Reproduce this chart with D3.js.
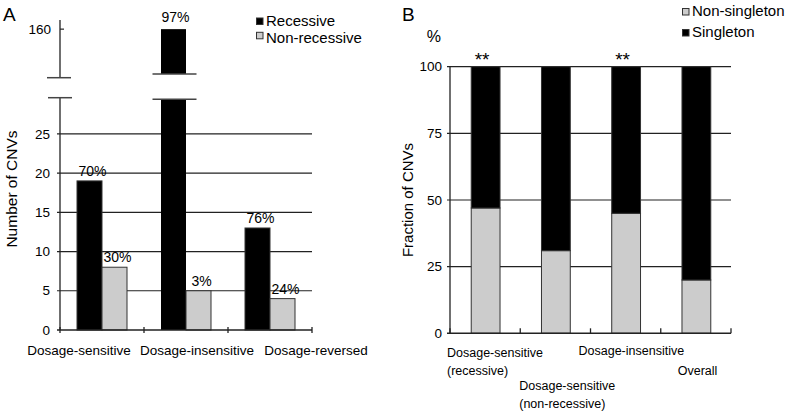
<!DOCTYPE html>
<html><head><meta charset="utf-8">
<script src="https://cdn.jsdelivr.net/npm/d3@7"></script>
<style>
html,body{margin:0;padding:0;background:#fff;}
svg text{font-family:"Liberation Sans",Arial,sans-serif;fill:#000;}
</style></head>
<body><svg id="c" width="785" height="412"></svg>
<script>
// ---------- Data: panel A ----------
const catsA = ["Dosage-sensitive", "Dosage-insensitive", "Dosage-reversed"];
const seriesA = ["Recessive", "Non-recessive"];
const recessive = [19, 160, 13];
const nonRecessive = [8, 5, 4];
const pctRecessive = ["70%", "97%", "76%"];
const pctNonRecessive = ["30%", "3%", "24%"];
const ticksALower = [0, 5, 10, 15, 20, 25];
const ticksAUpper = [160];

// ---------- Data: panel B ----------
const catsB = ["Dosage-sensitive (recessive)", "Dosage-sensitive (non-recessive)", "Dosage-insensitive", "Overall"];
const catLinesB = [["Dosage-sensitive", "(recessive)"], ["Dosage-sensitive", "(non-recessive)"], ["Dosage-insensitive"], ["Overall"]];
const seriesB = ["Non-singleton", "Singleton"];
const nonSingleton = [47, 31, 45, 20];
const singleton = [53, 69, 55, 80];
const significance = ["**", "", "**", ""];
const ticksB = [0, 25, 50, 75, 100];

const BLACK = "#000", GRAY = "#cccccc", LINE = "#222";
const svg = d3.select("#c");

// ================= Panel A =================
const xA = d3.scaleBand().domain(catsA).range([60, 312]).paddingInner(0).paddingOuter(0);
const xAin = d3.scaleBand().domain(seriesA).range([0, xA.bandwidth()]).paddingInner(0).paddingOuter(0.68);
const yA = d3.scaleLinear().domain([0, 29.4]).range([330, 99.3]);
const yAU = d3.scaleLinear().domain([151.5, 161.6]).range([77.7, 20]);
const gA = svg.append("g");

// gridlines
gA.selectAll("line.grid").data(ticksALower.filter(d => d > 0)).join("line")
  .attr("x1", 57).attr("x2", 312).attr("y1", d => yA(d)).attr("y2", d => yA(d))
  .attr("stroke", LINE).attr("stroke-width", 1.2);
// tick labels lower
gA.selectAll("text.tl").data(ticksALower).join("text")
  .attr("x", 50).attr("y", d => yA(d)).attr("dy", "0.35em").attr("text-anchor", "end")
  .style("font-size", "13.5px").text(d => d);
// upper tick
gA.selectAll("text.tu").data(ticksAUpper).join("text")
  .attr("x", 51).attr("y", d => yAU(d)).attr("dy", "0.35em").attr("text-anchor", "end")
  .style("font-size", "13.5px").text(d => d);
gA.selectAll("line.tu").data(ticksAUpper).join("line")
  .attr("x1", 60).attr("x2", 64).attr("y1", d => yAU(d)).attr("y2", d => yAU(d))
  .attr("stroke", LINE).attr("stroke-width", 1.2);

// bars
const barsA = catsA.map((c, i) => [
  {cat: c, s: seriesA[0], v: recessive[i], pct: pctRecessive[i]},
  {cat: c, s: seriesA[1], v: nonRecessive[i], pct: pctNonRecessive[i]}
]).flat();
const bw = xAin.bandwidth();
const yMaxLower = yA.domain()[1];
barsA.forEach(d => {
  const x = xA(d.cat) + xAin(d.s);
  const fill = d.s === seriesA[0] ? BLACK : GRAY;
  if (d.v <= yMaxLower) {
    gA.append("rect").attr("x", x).attr("y", yA(d.v)).attr("width", bw).attr("height", yA(0) - yA(d.v))
      .attr("fill", fill).attr("stroke", "#333").attr("stroke-width", 1);
    gA.append("text").attr("x", x + bw / 2 + 3).attr("y", yA(d.v) - 5).attr("text-anchor", "middle")
      .style("font-size", "14px").text(d.pct);
  } else {
    // broken bar
    gA.append("rect").attr("x", x).attr("y", yA(yMaxLower)).attr("width", bw).attr("height", yA(0) - yA(yMaxLower))
      .attr("fill", fill);
    const yb = yAU.range()[0] - 3.7;
    gA.append("rect").attr("x", x).attr("y", yAU(d.v)).attr("width", bw).attr("height", yb - yAU(d.v))
      .attr("fill", fill);
    [yA(yMaxLower), yb].forEach(yy => gA.append("line").attr("x1", x - 8.5).attr("x2", x + bw + 10.5)
      .attr("y1", yy).attr("y2", yy).attr("stroke", "#444").attr("stroke-width", 1.5));
    gA.append("text").attr("x", x + bw / 2 + 2).attr("y", yAU(d.v) - 7).attr("text-anchor", "middle")
      .style("font-size", "14px").text(d.pct);
  }
});

// axes lines
gA.append("line").attr("x1", 60).attr("x2", 60).attr("y1", 97.7).attr("y2", yA(0)).attr("stroke", LINE).attr("stroke-width", 1.3);
gA.append("line").attr("x1", 60).attr("x2", 60).attr("y1", yAU.range()[1]).attr("y2", yAU.range()[0]).attr("stroke", LINE).attr("stroke-width", 1.3);
[[97.7, 48, 72], [yAU.range()[0], 47, 71]].forEach(([yy, a, b]) =>
  gA.append("line").attr("x1", a).attr("x2", b).attr("y1", yy).attr("y2", yy).attr("stroke", "#444").attr("stroke-width", 1.5));
gA.append("line").attr("x1", 57).attr("x2", 312).attr("y1", yA(0)).attr("y2", yA(0)).attr("stroke", LINE).attr("stroke-width", 1.5);
const bandEdgesA = catsA.map(c => xA(c)).concat([xA.range()[1]]);
gA.selectAll("line.xt").data(bandEdgesA).join("line")
  .attr("x1", d => d).attr("x2", d => d).attr("y1", yA(0) - 3).attr("y2", yA(0) + 3)
  .attr("stroke", LINE).attr("stroke-width", 1.3);
// category labels
const labelDxA = [-23, 11, 46];
gA.selectAll("text.cat").data(catsA).join("text")
  .attr("x", (d, i) => xA(d) + xA.bandwidth() / 2 + labelDxA[i]).attr("y", 355)
  .attr("text-anchor", "middle").style("font-size", "13.5px").text(d => d);
// y title
gA.append("text").attr("transform", "translate(17,189) rotate(-90)").attr("text-anchor", "middle")
  .style("font-size", "15.5px").text("Number of CNVs");
// panel letter
gA.append("text").attr("x", 3).attr("y", 21).style("font-size", "19px").text("A");
// legend
const legA = gA.append("g");
seriesA.forEach((s, i) => {
  legA.append("rect").attr("x", 256.5).attr("y", 18 + i * 14.3).attr("width", 6.5).attr("height", 6.5)
    .attr("fill", i === 0 ? BLACK : GRAY).attr("stroke", "#333").attr("stroke-width", 1);
  legA.append("text").attr("x", 266).attr("y", 26 + i * 17).style("font-size", "15px").text(s);
});

// ================= Panel B =================
const xB = d3.scaleBand().domain(catsB).range([450, 731]).paddingInner(0).paddingOuter(0);
const yB = d3.scaleLinear().domain([0, 100]).range([333.3, 66.7]);
const gB = svg.append("g");
const bwB = xB.bandwidth() * 0.41;

gB.selectAll("line.grid").data(ticksB.filter(d => d > 0)).join("line")
  .attr("x1", 447).attr("x2", 731).attr("y1", d => yB(d)).attr("y2", d => yB(d))
  .attr("stroke", LINE).attr("stroke-width", 1.2);
gB.selectAll("text.tl").data(ticksB).join("text")
  .attr("x", 442).attr("y", d => yB(d)).attr("dy", "0.35em").attr("text-anchor", "end")
  .style("font-size", "13.5px").text(d => d);

const stackData = catsB.map((c, i) => ({cat: c, "Non-singleton": nonSingleton[i], "Singleton": singleton[i]}));
const stacked = d3.stack().keys(seriesB)(stackData);
gB.selectAll("g.layer").data(stacked).join("g")
  .attr("fill", d => d.key === "Singleton" ? BLACK : GRAY)
  .selectAll("rect").data(d => d).join("rect")
  .attr("x", d => xB(d.data.cat) + (xB.bandwidth() - bwB) / 2 + 0.5)
  .attr("y", d => yB(d[1])).attr("width", bwB).attr("height", d => yB(d[0]) - yB(d[1]))
  .attr("stroke", "#333").attr("stroke-width", 1);

gB.append("line").attr("x1", 450).attr("x2", 450).attr("y1", yB(100)).attr("y2", yB(0)).attr("stroke", LINE).attr("stroke-width", 1.3);
gB.append("line").attr("x1", 447).attr("x2", 731).attr("y1", yB(0)).attr("y2", yB(0)).attr("stroke", LINE).attr("stroke-width", 1.5);
const bandEdgesB = catsB.map(c => xB(c)).concat([xB.range()[1]]);
gB.selectAll("line.xt").data(bandEdgesB).join("line")
  .attr("x1", d => d).attr("x2", d => d).attr("y1", yB(0) - 5).attr("y2", yB(0))
  .attr("stroke", LINE).attr("stroke-width", 1.3);

// significance stars
gB.selectAll("text.sig").data(significance).join("text")
  .attr("x", (d, i) => xB(catsB[i]) + xB.bandwidth() / 2 - 3).attr("y", 66)
  .attr("text-anchor", "middle").style("font-size", "19px").text(d => d);

// category labels (staggered)
const labelLayoutB = [{dx: -3, y: 357}, {dx: -1, y: 390}, {dx: -12, y: 355}, {dx: 17, y: 375}];
catLinesB.forEach((lines, i) => {
  const t = gB.append("text").attr("x", xB(catsB[i]) + labelLayoutB[i].dx).attr("y", labelLayoutB[i].y)
    .style("font-size", "12.5px");
  lines.forEach((ln, j) => t.append("tspan").attr("x", xB(catsB[i]) + labelLayoutB[i].dx)
    .attr("dy", j === 0 ? 0 : 18.3).text(ln));
});

gB.append("text").attr("transform", "translate(413,200) rotate(-90)").attr("text-anchor", "middle")
  .style("font-size", "15px").text("Fraction of CNVs");
gB.append("text").attr("x", 441).attr("y", 42).attr("text-anchor", "end").style("font-size", "16px").text("%");
gB.append("text").attr("x", 402).attr("y", 21).style("font-size", "19px").text("B");

const legB = gB.append("g");
seriesB.forEach((s, i) => {
  legB.append("rect").attr("x", 682.5).attr("y", 8.5 + i * 21).attr("width", 6.5).attr("height", 6.5)
    .attr("fill", s === "Singleton" ? BLACK : GRAY).attr("stroke", "#333").attr("stroke-width", 1);
  legB.append("text").attr("x", 692).attr("y", 16 + i * 21).style("font-size", "15px").text(s);
});
</script></body></html>
